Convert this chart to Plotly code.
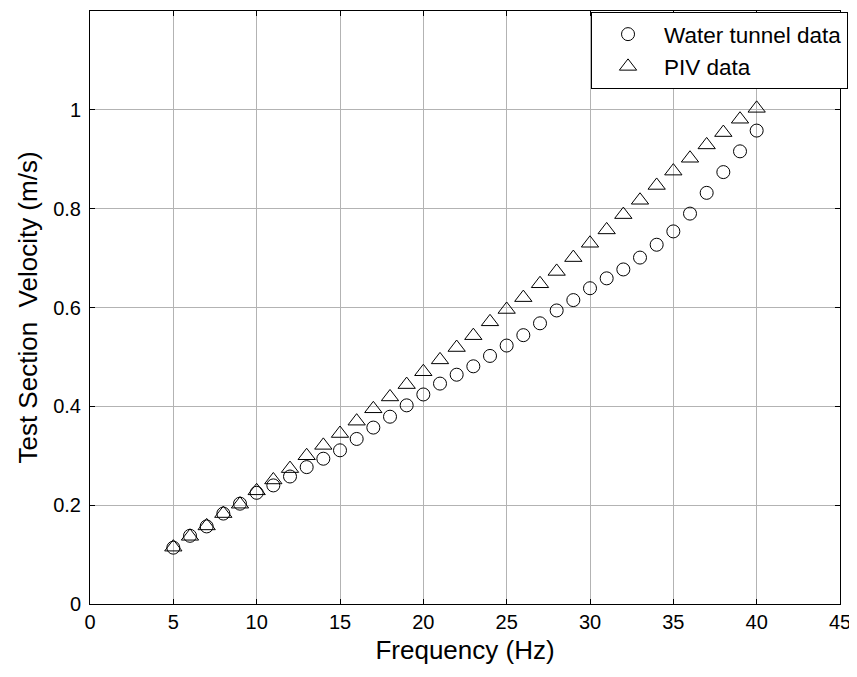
import plotly.graph_objects as go

freq = list(range(5, 41))
water_tunnel = [0.114, 0.138, 0.157, 0.183, 0.203, 0.225, 0.240, 0.258, 0.277, 0.294,
                0.311, 0.334, 0.357, 0.379, 0.402, 0.424, 0.446, 0.464, 0.481, 0.502,
                0.523, 0.544, 0.568, 0.594, 0.615, 0.639, 0.659, 0.677, 0.701, 0.727,
                0.754, 0.790, 0.832, 0.874, 0.916, 0.958]
piv = [0.115, 0.137, 0.158, 0.183, 0.202, 0.229, 0.251, 0.274, 0.300, 0.321,
       0.345, 0.370, 0.395, 0.419, 0.444, 0.470, 0.494, 0.519, 0.543, 0.571,
       0.596, 0.620, 0.648, 0.673, 0.701, 0.730, 0.757, 0.788, 0.817, 0.847,
       0.876, 0.902, 0.929, 0.954, 0.981, 1.003]

x_ticks = [0, 5, 10, 15, 20, 25, 30, 35, 40, 45]
y_ticks = [0, 0.2, 0.4, 0.6, 0.8, 1.0]
y_tick_labels = ["0", "0.2", "0.4", "0.6", "0.8", "1"]

FONT = "Liberation Sans, Arial, sans-serif"

fig = go.Figure()
fig.add_trace(go.Scatter(
    x=freq, y=water_tunnel, mode="markers", name="Water tunnel data",
    marker=dict(symbol="circle-open", size=13, color="black", line=dict(width=1, color="black")),
))
fig.add_trace(go.Scatter(
    x=freq, y=piv, mode="markers", name="PIV data",
    marker=dict(symbol="triangle-up-open", size=15, color="black", line=dict(width=1, color="black")),
))

axis_common = dict(
    showline=True, linecolor="black", linewidth=1, mirror="ticks",
    ticks="inside", ticklen=5, tickcolor="black", tickwidth=1,
    showgrid=True, gridcolor="#b3b3b3", gridwidth=1,
    zeroline=False,
    tickfont=dict(family=FONT, size=20, color="black"),
)

fig.update_xaxes(
    range=[0, 45], tickvals=x_ticks, ticktext=[str(v) for v in x_ticks],
    title=dict(text="Frequency (Hz)", font=dict(family=FONT, size=26, color="black"), standoff=8),
    **axis_common,
)
fig.update_yaxes(
    range=[0, 1.2], tickvals=y_ticks, ticktext=y_tick_labels,
    ticklabelstandoff=4,
    title=dict(text="Test Section\u00a0 Velocity (m/s)", font=dict(family=FONT, size=26, color="black"), standoff=8),
    **axis_common,
)

fig.update_layout(
    width=849, height=661,
    margin=dict(l=82, r=17, t=3, b=65, autoexpand=False),
    plot_bgcolor="white", paper_bgcolor="white",
    font=dict(family=FONT, color="black"),
    legend=dict(
        x=1.0107, xanchor="right", y=0.9983, yanchor="top",
        bordercolor="black", borderwidth=1, bgcolor="white",
        font=dict(family=FONT, size=22.5, color="black"),
        itemwidth=62,
    ),
)

fig.write_html("out.html")
